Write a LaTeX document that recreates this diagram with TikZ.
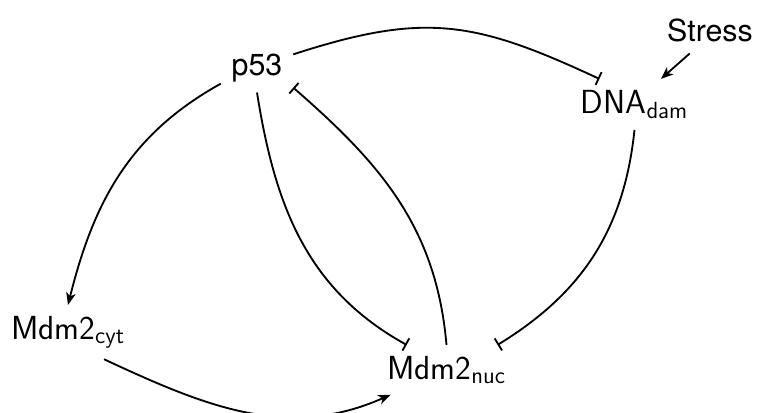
\documentclass[tikz,border=0pt]{standalone}
\usepackage{fontspec}
\newfontfamily\heros{TeX Gyre Heros}
\usetikzlibrary{arrows.meta}

\begin{document}
\begin{tikzpicture}[->,>={Stealth[length=7pt,width=5.5pt,inset=2pt]},line width=1.05pt,x=0.02cm,y=-0.02cm]
		\tikzstyle{every node}=[inner sep=0.2cm,anchor=base,font=\fontsize{19}{23}\selectfont\sffamily]
		\tikzstyle{inhib}=[-{Bar[width=8pt]}]
		
		\useasboundingbox (0,0) rectangle (759,412);
		
		\node (p53)    at (257,75)    [font=\LARGE\heros] {p53};
		\node (stress) at (710,42)    [font=\LARGE\heros] {Stress};
		\node (dna)    at (634.5,113) {DNA\textsubscript{dam}};
		\node (cyt)    at (68,339)    {Mdm2\textsubscript{cyt}};
		\node (nuc)    at (446.5,379) {Mdm2\textsubscript{nuc}};
		
		\path (p53.20)     edge[inhib,out=18,in=155,looseness=1.15] (dna.144)
		(stress.-132)      edge                                     (dna.44)
		(p53.204)          edge[out=209,in=76]                      (cyt.north)
		(p53.south)        edge[inhib,out=-81,in=151]               (nuc.148)
		(nuc.north)        edge[inhib,out=95,in=-41]                (p53.-29)
		(dna.south)        edge[inhib,out=-96,in=31.5]              (nuc.26)
		(cyt.-37)          edge[out=-25,in=-156]                    (nuc.204);
\end{tikzpicture}
\end{document}
